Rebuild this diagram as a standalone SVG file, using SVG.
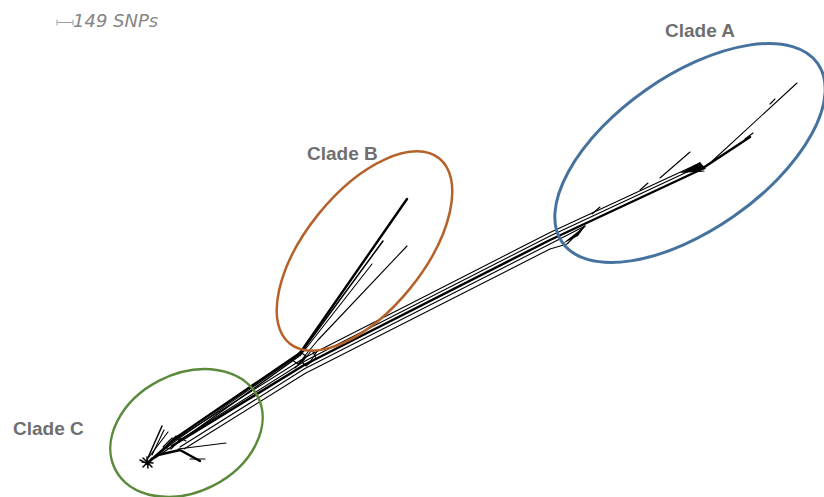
<svg xmlns="http://www.w3.org/2000/svg" width="824" height="497" viewBox="0 0 824 497">
<style>
.lbl{font-family:"Liberation Sans",Arial,sans-serif;font-weight:bold;font-size:19px;fill:#6f6f6f}
.scale{font-family:"DejaVu Sans",Verdana,sans-serif;font-style:italic;font-size:18px;fill:#858585}
.t{fill:none;stroke:#000;stroke-width:1.1;stroke-linejoin:round;stroke-linecap:round}
.m{fill:none;stroke:#000;stroke-width:1.5;stroke-linejoin:round;stroke-linecap:round}
.k{fill:none;stroke:#000;stroke-width:2.4;stroke-linejoin:round;stroke-linecap:round}
.clade{fill:none}
</style>
<rect width="824" height="497" fill="#fff"/>
<g id="scale-bar">
<path d="M57 22.5H73M57 19.5V25.5M73 19.5V25.5" stroke="#a0a0a0" stroke-width="1" fill="none"/>
<text class="scale" x="73" y="27">149 SNPs</text>
</g>
<g id="network">
<!-- band to Clade A -->
<polyline class="t" points="176,439 305,357.5 550,232.5 700,163"/>
<polyline class="t" points="178,441 305,361 550,236 700,166"/>
<polyline class="k" points="172,446 305,364.5 550,240 700,170 750,137"/>
<polyline class="t" points="180,447 305,368.5 550,244 585,226"/>
<polyline class="t" points="184,449 305,373.5 550,249 567,244 585,226"/>
<polygon points="562,244 586,225 578,236" fill="#000"/>
<polygon points="680,173 700,162 706,169 694,172" fill="#000"/>
<line class="t" x1="694" y1="172" x2="704" y2="171"/>
<line class="t" x1="660" y1="178" x2="690" y2="152"/>
<line class="t" x1="592" y1="214" x2="600" y2="207"/>
<line class="t" x1="640" y1="190" x2="648" y2="183"/>
<line class="t" x1="709" y1="164" x2="797" y2="83"/>
<line class="t" x1="770" y1="104" x2="775" y2="99"/>
<line class="t" x1="745" y1="139" x2="753" y2="133"/>
<!-- Clade B -->
<polyline class="k" points="150,461 177,437 300,353 407,199"/>
<polyline class="t" points="152,459 178,439 299,355 404,203"/>
<polyline class="m" points="155,458 180,441 298,357 383,241"/>
<polyline class="t" points="300,356 372,264"/>
<polyline class="t" points="303,358 318,340 407,246"/>
<path class="t" d="M292 360L300 352L306 356L298 364ZM302 362L312 350L316 358L306 366Z"/>
<path class="t" d="M295 368L305 358M310 362L318 350"/>
<!-- Clade C -->
<path class="t" d="M163 447L172 438L180 440L171 449Z"/>
<path class="t" d="M168 444L176 436L186 441"/>
<line class="m" x1="147" y1="460" x2="162" y2="426"/>
<line class="t" x1="149" y1="457" x2="168" y2="432"/>
<line class="t" x1="152" y1="455" x2="164" y2="430"/>
<polyline class="k" points="158,455 180,450 200,461"/>
<line class="t" x1="190" y1="459" x2="205" y2="459"/>
<line class="t" x1="178" y1="449" x2="226" y2="443"/>
<path class="m" d="M142 462L153 463M147 457L148 468M143 458L152 467M152 458L143 467M140 460L146 463"/>
</g>
<g id="clade-a">
<ellipse class="clade" cx="690" cy="153" rx="156" ry="77" transform="rotate(-35 690 153)" stroke="#46729e" stroke-width="3"/>
<text class="lbl" x="665" y="37">Clade A</text>
</g>
<g id="clade-b">
<ellipse class="clade" cx="364.5" cy="251" rx="119" ry="59" transform="rotate(-51 364.5 251)" stroke="#b5622a" stroke-width="2.5"/>
<text class="lbl" x="307" y="160">Clade B</text>
</g>
<g id="clade-c">
<ellipse class="clade" cx="186.5" cy="433" rx="80" ry="59" transform="rotate(-27 186.5 433)" stroke="#5b8a3b" stroke-width="2.5"/>
<text class="lbl" x="13" y="435">Clade C</text>
</g>
</svg>
